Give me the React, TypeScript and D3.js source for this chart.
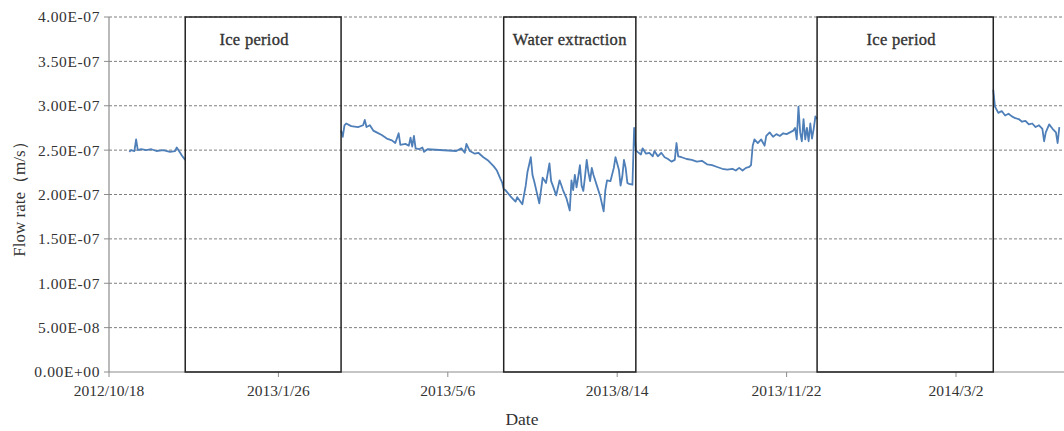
import React from "react";
import * as d3 from "d3";

// Observation start; all day offsets below count from this date (UTC).
const START = "2012/10/18";

// X-axis tick labels (every 100 days).
const xTickLabels = ["2012/10/18", "2013/1/26", "2013/5/6", "2013/8/14", "2013/11/22", "2014/3/2"];

// Y-axis tick values (m/s).
const yTicks = [0, 0.5e-7, 1e-7, 1.5e-7, 2e-7, 2.5e-7, 3e-7, 3.5e-7, 4e-7];

// Flow rate record: day offset from START and value (x1e-7 m/s). null = no record.
const days = [
  12, 13, 15, 16, 17, 19, 22, 25, 28, 32, 36, 39, 40, 42, 43, 45,
  46,
  137, 138, 139, 140, 143, 147, 150, 151, 152, 154, 156, 158, 161, 164, 167, 169,
  171, 172, 175, 177, 178, 179, 180, 181, 183, 185, 186, 188, 205, 208, 210, 211,
  213, 216, 218, 221, 224, 227, 229, 231, 232, 233, 234, 237, 240, 241, 244, 246,
  247, 249, 250, 251, 254, 256, 258, 260, 261, 262, 264, 266, 268, 270, 272, 273,
  274, 275, 276, 277, 278, 279, 280, 281, 282, 283, 284, 285, 286, 288, 290, 292,
  293, 294, 296, 298, 299, 300, 301, 302, 303, 304, 305, 306, 307, 309, 310, 311,
  312, 314, 315, 317, 319, 321, 322, 324, 326, 328, 330, 332, 334, 335, 336, 338,
  341, 344, 347, 350, 353, 356, 359, 362, 365, 368, 370, 372, 374, 376, 378, 379,
  380, 381, 383, 385, 387, 388, 390, 392, 394, 396, 398, 400, 402, 404, 405, 406,
  407, 408, 409, 410, 411, 412, 413, 414, 415, 416, 417, 418,
  419,
  522, 523, 525, 527, 529, 531, 533, 535, 537, 539, 541, 543, 545, 547, 549, 551,
  552, 553, 555, 557, 559, 560, 561,
];

const flow = [
  2.48, 2.50, 2.49, 2.62, 2.50, 2.51, 2.50, 2.51, 2.49, 2.50, 2.48, 2.49, 2.53, 2.47, 2.44, 2.39,
  null,
  2.72, 2.65, 2.78, 2.80, 2.77, 2.76, 2.78, 2.84, 2.76, 2.78, 2.72, 2.70, 2.67, 2.63, 2.61, 2.58,
  2.69, 2.56, 2.57, 2.55, 2.64, 2.54, 2.66, 2.52, 2.51, 2.53, 2.48, 2.51, 2.49, 2.52, 2.47, 2.57,
  2.49, 2.46, 2.47, 2.42, 2.38, 2.32, 2.27, 2.18, 2.14, 2.06, 2.05, 1.98, 1.92, 1.97, 1.89, 2.10,
  2.25, 2.42, 2.22, 2.15, 1.90, 2.19, 2.13, 2.35, 2.15, 2.10, 1.99, 2.16, 2.05, 1.96, 1.82, 2.16,
  2.05, 2.22, 2.08, 2.20, 2.33, 2.10, 2.04, 2.20, 2.39, 2.25, 2.15, 2.30, 2.22, 2.10, 1.98, 1.81,
  2.05, 2.16, 2.15, 2.30, 2.42, 2.35, 2.28, 2.10, 2.20, 2.39, 2.30, 2.13, 2.12, 2.11, 2.75, 2.50,
  2.48, 2.45, 2.52, 2.46, 2.47, 2.43, 2.49, 2.43, 2.47, 2.42, 2.40, 2.37, 2.39, 2.58, 2.43, 2.42,
  2.40, 2.39, 2.37, 2.38, 2.34, 2.33, 2.31, 2.29, 2.28, 2.29, 2.27, 2.30, 2.27, 2.30, 2.31, 2.33,
  2.55, 2.62, 2.58, 2.62, 2.55, 2.66, 2.70, 2.65, 2.68, 2.66, 2.69, 2.68, 2.70, 2.72, 2.75, 2.62,
  2.99, 2.70, 2.60, 2.85, 2.62, 2.75, 2.60, 2.80, 2.63, 2.74, 2.88, 2.85,
  null,
  3.18, 2.99, 2.92, 2.94, 2.89, 2.91, 2.88, 2.86, 2.85, 2.82, 2.83, 2.79, 2.80, 2.76, 2.78, 2.74,
  2.60, 2.70, 2.79, 2.74, 2.70, 2.58, 2.76,
];

// Highlighted periods.
const periodLabels = ["Ice period", "Water extraction", "Ice period"];
const periodStarts = ["2012/12/02", "2013/06/08", "2013/12/10"];
const periodEnds = ["2013/03/04", "2013/08/25", "2014/03/24"];

const WIDTH = 1064;
const HEIGHT = 431;
const M = { left: 109, right: 0, top: 17, bottom: 59 };
const DAY_MS = 86400000;
const FONT = "'Liberation Serif', 'Times New Roman', serif";

const parseDate = (s: string) => {
  const [y, m, d] = s.split("/").map(Number);
  return new Date(Date.UTC(y, m - 1, d));
};

const fmtSci = (v: number) => {
  if (v === 0) return "0.00E+00";
  const [mant, exp] = v.toExponential(2).split("e");
  const e = Number(exp);
  const sign = e < 0 ? "-" : "+";
  return `${mant}E${sign}${String(Math.abs(e)).padStart(2, "0")}`;
};

// Fine tuning of the period captions relative to box centre.
const captionDx = [-9, 0, -4];

export default function App() {
  const start = parseDate(START);
  const plotW = WIDTH - M.left - M.right;
  const plotH = HEIGHT - M.top - M.bottom;
  const pxPerDay = 1.694;
  const end = new Date(start.getTime() + (plotW / pxPerDay) * DAY_MS);

  const x = d3.scaleUtc().domain([start, end]).range([M.left, M.left + plotW]);
  const y = d3.scaleLinear().domain([0, 4e-7]).range([M.top + plotH, M.top]);

  const pts = days.map((d, i) => ({
    date: new Date(start.getTime() + d * DAY_MS),
    v: flow[i] == null ? null : (flow[i] as number) * 1e-7,
  }));

  const line = d3
    .line<{ date: Date; v: number | null }>()
    .defined((p) => p.v != null)
    .x((p) => x(p.date))
    .y((p) => y(p.v as number));

  const x0 = M.left;
  const x1 = M.left + plotW;
  const yBottom = y(0);
  const yTop = y(4e-7);

  return (
    <svg
      width={WIDTH}
      height={HEIGHT}
      style={{ position: "absolute", left: 0, top: 0, background: "#fff" }}
      fontFamily={FONT}
    >
      {/* horizontal dashed gridlines */}
      {yTicks.slice(1).map((t) => (
        <line
          key={`g${t}`}
          x1={x0}
          x2={x1}
          y1={y(t)}
          y2={y(t)}
          stroke="#7f7f7f"
          strokeWidth={1}
          strokeDasharray="3,2"
        />
      ))}

      {/* axes */}
      <line x1={x0} x2={x0} y1={yTop} y2={yBottom} stroke="#8c8c8c" strokeWidth={1.2} />
      <line x1={x0} x2={x1} y1={yBottom} y2={yBottom} stroke="#8c8c8c" strokeWidth={1.2} />

      {/* y ticks */}
      {yTicks.map((t) => (
        <g key={`y${t}`}>
          <line x1={x0 - 5} x2={x0} y1={y(t)} y2={y(t)} stroke="#8c8c8c" strokeWidth={1} />
          <text
            x={x0 - 9}
            y={y(t)}
            dy="0.35em"
            textAnchor="end"
            fontSize={15.5}
            letterSpacing={0.6}
            fill="#333"
          >
            {fmtSci(t)}
          </text>
        </g>
      ))}

      {/* x ticks */}
      {xTickLabels.map((lbl) => {
        const xx = x(parseDate(lbl));
        return (
          <g key={lbl}>
            <line x1={xx} x2={xx} y1={yBottom} y2={yBottom + 5} stroke="#8c8c8c" strokeWidth={1} />
            <text x={xx} y={yBottom + 24} textAnchor="middle" fontSize={15.5} fill="#333">
              {lbl}
            </text>
          </g>
        );
      })}

      {/* flow rate series */}
      <path
        d={line(pts) || ""}
        fill="none"
        stroke="#4f7fb8"
        strokeWidth={1.8}
        strokeLinejoin="round"
      />

      {/* period boxes */}
      {periodLabels.map((lbl, i) => {
        const bx0 = x(parseDate(periodStarts[i]));
        const bx1 = x(parseDate(periodEnds[i]));
        return (
          <g key={`p${i}`}>
            <rect
              x={bx0}
              y={yTop}
              width={bx1 - bx0}
              height={yBottom - yTop}
              fill="none"
              stroke="#222"
              strokeWidth={1.5}
            />
            <text
              x={(bx0 + bx1) / 2 + captionDx[i]}
              y={yTop + 28}
              textAnchor="middle"
              fontSize={16.5}
              letterSpacing={0.3}
              stroke="#333"
              strokeWidth={0.35}
              fill="#333"
            >
              {lbl}
            </text>
          </g>
        );
      })}

      {/* axis titles */}
      <text x={522} y={425} textAnchor="middle" fontSize={17.5} fill="#333">
        Date
      </text>
      <text
        transform={`translate(25, 195) rotate(-90)`}
        textAnchor="middle"
        fontSize={17}
        fill="#333"
      >
        Flow rate（m/s）
      </text>
    </svg>
  );
}
